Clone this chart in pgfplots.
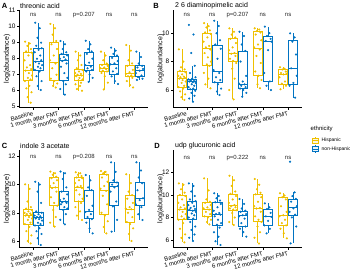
\documentclass[border=0pt]{standalone}
\usepackage{fontspec}
\setmainfont{Liberation Sans}
\usepackage{pgfplots}
\pgfplotsset{compat=1.18}
\usepgfplotslibrary{statistics}
\definecolor{jcoY}{HTML}{EFC000}
\definecolor{jcoB}{HTML}{0073C2}
\newcommand{\bx}[7]{\addplot[color=#1, line width=0.5pt, solid, mark=none, boxplot/draw direction=y, boxplot prepared={draw position=#2, lower whisker=#3, lower quartile=#4, median=#5, upper quartile=#6, upper whisker=#7, box extend=0.36, whisker extend=0}] coordinates {};}
\tikzset{nsl/.style={font=\fontsize{6}{7}\selectfont, text=black!85}}
\pgfplotsset{
  panel/.style={
    scale only axis, width=129pt, height=97.5pt,
    xmin=0.45, xmax=5.55,
    axis x line*=bottom, axis y line*=left,
    axis line style={black, line width=0.5pt},
    tick align=outside, major tick length=2pt,
    tick style={black, line width=0.4pt},
    xtick={1,2,3,4,5},
    xticklabels={Baseline,1 month after FMT,3 months after FMT,6 months after FMT,12 months after FMT},
    xticklabel style={rotate=15, anchor=north east, font=\fontsize{6}{7}\selectfont, inner sep=1pt},
    yticklabel style={font=\fontsize{6.5}{7}\selectfont, inner sep=1.5pt},
    /pgf/number format/assume math mode=true,
    clip=false,
  },
  ptY/.style={only marks, mark=*, mark size=0.85pt, color=jcoY, mark options={draw=none, fill=jcoY}},
  ptB/.style={only marks, mark=*, mark size=0.85pt, color=jcoB, mark options={draw=none, fill=jcoB}},
}
\begin{document}
\begin{tikzpicture}
\useasboundingbox (0pt,0pt) rectangle (350pt,271pt);

% ---------------- Panel A ----------------
\begin{axis}[panel, at={(19.3pt,163.5pt)}, anchor=south west, ymin=4.95, ymax=11.04, ytick={5,6,7,8,9,10,11}]
\bx{jcoY}{0.8}{5.25}{6.67}{7.29}{8.38}{9.06}
\bx{jcoB}{1.2}{6.04}{7.28}{7.83}{8.65}{10.25}
\bx{jcoY}{1.8}{6.2}{6.67}{7.8}{9.0}{10.17}
\bx{jcoB}{2.2}{5.75}{6.65}{7.9}{8.3}{9.1}
\bx{jcoY}{2.8}{6.0}{6.67}{6.98}{7.33}{8.44}
\bx{jcoB}{3.2}{6.55}{7.3}{7.6}{8.4}{9.12}
\bx{jcoY}{3.8}{6.08}{7.19}{7.4}{7.65}{8.44}
\bx{jcoB}{4.2}{6.42}{7.04}{7.67}{8.17}{8.69}
\bx{jcoY}{4.8}{6.2}{6.88}{7.1}{7.6}{8.85}
\bx{jcoB}{5.2}{6.67}{6.88}{7.3}{7.58}{8.44}
\addplot[ptY] coordinates {(0.68,9.06) (0.86,8.95) (0.77,8.8) (0.91,8.6) (0.72,8.45) (0.94,8.38) (0.81,8.2) (0.66,7.9) (0.88,7.6) (0.75,7.45) (0.92,7.35) (0.70,7.25) (0.83,7.1) (0.95,6.95) (0.79,6.8) (0.89,6.7) (0.67,6.6) (0.85,6.3) (0.73,6.15) (0.93,5.9) (0.78,5.6) (0.90,5.25)
(1.68,10.17) (1.86,9.9) (1.77,9.5) (1.91,9.1) (1.72,8.9) (1.94,8.6) (1.81,8.2) (1.66,7.9) (1.88,7.7) (1.75,7.4) (1.92,7.0) (1.70,6.75) (1.83,6.6) (1.95,6.45) (1.79,6.3) (1.89,6.2)
(2.68,8.44) (2.86,8.2) (2.77,7.9) (2.91,7.6) (2.72,7.4) (2.94,7.3) (2.81,7.2) (2.66,7.1) (2.88,7.05) (2.75,7.0) (2.92,6.95) (2.70,6.9) (2.83,6.8) (2.95,6.7) (2.79,6.65) (2.89,6.5) (2.67,6.4) (2.85,6.3) (2.73,6.1) (2.93,6.0)
(3.68,8.44) (3.86,8.2) (3.77,7.9) (3.91,7.7) (3.72,7.6) (3.94,7.55) (3.81,7.45) (3.66,7.4) (3.88,7.35) (3.75,7.25) (3.92,7.2) (3.70,7.1) (3.83,6.9) (3.95,6.5) (3.79,6.08)
(4.68,8.85) (4.86,8.5) (4.77,7.9) (4.91,7.7) (4.72,7.55) (4.94,7.3) (4.81,7.15) (4.66,7.05) (4.88,6.95) (4.75,6.9) (4.92,6.8) (4.70,6.6) (4.83,6.35) (4.95,6.2)};
\addplot[ptB] coordinates {(1.08,10.25) (1.26,9.9) (1.17,9.3) (1.31,9.0) (1.12,8.8) (1.34,8.65) (1.21,8.55) (1.06,8.4) (1.28,8.2) (1.15,8.0) (1.32,7.9) (1.10,7.8) (1.23,7.7) (1.35,7.6) (1.19,7.5) (1.29,7.4) (1.07,7.3) (1.25,7.2) (1.13,6.9) (1.33,6.6) (1.18,6.3) (1.30,6.04)
(2.08,9.1) (2.26,8.9) (2.17,8.6) (2.31,8.4) (2.12,8.3) (2.34,8.2) (2.21,8.1) (2.06,8.0) (2.28,7.95) (2.15,7.85) (2.32,7.7) (2.10,7.5) (2.23,7.1) (2.35,6.8) (2.19,6.6) (2.29,6.4) (2.07,6.1) (2.25,5.75)
(3.08,9.12) (3.26,8.9) (3.17,8.6) (3.31,8.45) (3.12,8.3) (3.34,8.0) (3.21,7.75) (3.06,7.6) (3.28,7.5) (3.15,7.4) (3.32,7.3) (3.10,7.2) (3.23,7.0) (3.35,6.8) (3.19,6.55)
(4.08,8.69) (4.26,8.5) (4.17,8.3) (4.31,8.2) (4.12,8.05) (4.34,7.85) (4.21,7.7) (4.06,7.65) (4.28,7.4) (4.15,7.2) (4.32,7.05) (4.10,6.9) (4.23,6.6) (4.35,6.42)
(5.08,8.44) (5.26,8.1) (5.17,7.7) (5.31,7.55) (5.12,7.45) (5.34,7.35) (5.21,7.25) (5.06,7.1) (5.28,6.95) (5.15,6.85) (5.32,6.75) (5.10,6.67)};
\node[nsl] at (axis cs:1,10.73) {ns};
\node[nsl] at (axis cs:2,10.73) {ns};
\node[nsl] at (axis cs:3,10.73) {p=0.207};
\node[nsl] at (axis cs:4,10.73) {ns};
\node[nsl] at (axis cs:5,10.73) {ns};
\end{axis}

% ---------------- Panel B ----------------
\begin{axis}[panel, at={(173pt,163.5pt)}, anchor=south west, ymin=4.77, ymax=11.63, ytick={6,8,10}]
\bx{jcoY}{0.8}{5.3}{6.19}{6.82}{7.29}{8.86}
\bx{jcoB}{1.2}{5.18}{6.05}{6.59}{6.77}{7.7}
\bx{jcoY}{1.8}{6.12}{7.76}{8.93}{9.99}{10.7}
\bx{jcoB}{2.2}{5.65}{6.52}{7.29}{9.17}{10.88}
\bx{jcoY}{2.8}{5.34}{8.0}{8.58}{9.64}{10.34}
\bx{jcoB}{3.2}{5.53}{6.12}{6.4}{8.75}{10.1}
\bx{jcoY}{3.8}{6.12}{7.06}{8.93}{10.1}{10.34}
\bx{jcoB}{4.2}{6.0}{6.59}{9.4}{9.76}{10.46}
\bx{jcoY}{4.8}{6.05}{6.42}{7.13}{7.46}{7.6}
\bx{jcoB}{5.2}{5.46}{6.42}{7.53}{9.52}{9.99}
\addplot[ptY] coordinates {(0.68,8.86) (0.86,8.0) (0.77,7.6) (0.91,7.45) (0.72,7.35) (0.94,7.25) (0.81,7.1) (0.66,7.0) (0.88,6.95) (0.75,6.9) (0.92,6.85) (0.70,6.8) (0.83,6.7) (0.95,6.6) (0.79,6.5) (0.89,6.3) (0.67,6.2) (0.85,6.1) (0.73,5.9) (0.93,5.7) (0.78,5.5) (0.90,5.3)
(1.68,10.7) (1.86,10.5) (1.77,10.4) (1.91,10.2) (1.72,10.05) (1.94,9.95) (1.81,9.7) (1.66,9.4) (1.88,9.1) (1.75,9.0) (1.92,8.85) (1.70,8.6) (1.83,8.3) (1.95,8.0) (1.79,7.8) (1.89,7.7) (1.67,7.2) (1.85,6.8) (1.73,6.4) (1.93,6.12)
(2.68,10.34) (2.86,10.1) (2.77,9.9) (2.91,9.7) (2.72,9.6) (2.94,9.3) (2.81,9.0) (2.66,8.8) (2.88,8.6) (2.75,8.55) (2.92,8.4) (2.70,8.2) (2.83,8.05) (2.95,7.9) (2.79,7.5) (2.89,6.8) (2.67,6.0) (2.85,5.34)
(3.68,10.34) (3.86,10.25) (3.77,10.15) (3.91,10.05) (3.72,9.9) (3.94,9.5) (3.81,9.2) (3.66,9.0) (3.88,8.85) (3.75,8.4) (3.92,7.9) (3.70,7.3) (3.83,7.0) (3.95,6.7) (3.79,6.4) (3.89,6.12)
(4.68,7.6) (4.86,7.5) (4.77,7.45) (4.91,7.3) (4.72,7.2) (4.94,7.15) (4.81,7.1) (4.66,6.9) (4.88,6.6) (4.75,6.45) (4.92,6.3) (4.70,6.05)};
\addplot[ptB] coordinates {(1.08,10.58) (1.26,9.9) (1.17,8.6) (1.31,7.7) (1.12,7.2) (1.34,6.9) (1.21,6.8) (1.06,6.75) (1.28,6.7) (1.15,6.65) (1.32,6.6) (1.10,6.6) (1.23,6.55) (1.35,6.5) (1.19,6.4) (1.29,6.3) (1.07,6.2) (1.25,6.1) (1.13,6.05) (1.33,5.95) (1.18,5.8) (1.30,5.6) (1.09,5.4) (1.24,5.18)
(2.08,10.88) (2.26,10.5) (2.17,10.0) (2.31,9.5) (2.12,9.2) (2.34,8.9) (2.21,8.2) (2.06,7.4) (2.28,7.2) (2.15,6.9) (2.32,6.7) (2.10,6.55) (2.23,6.4) (2.35,6.1) (2.19,5.9) (2.29,5.65)
(3.08,10.1) (3.26,9.8) (3.17,9.2) (3.31,8.75) (3.12,8.0) (3.34,7.0) (3.21,6.6) (3.06,6.45) (3.28,6.4) (3.15,6.3) (3.32,6.2) (3.10,6.1) (3.23,6.0) (3.35,5.8) (3.19,5.53)
(4.08,10.46) (4.26,10.0) (4.17,9.8) (4.31,9.6) (4.12,9.45) (4.34,9.4) (4.21,8.8) (4.06,7.2) (4.28,6.6) (4.15,6.3) (4.32,6.0)
(5.08,9.99) (5.26,9.7) (5.17,9.4) (5.31,8.5) (5.12,7.53) (5.34,7.0) (5.21,6.5) (5.06,6.3) (5.28,5.46)};
\node[nsl] at (axis cs:1,11.29) {ns};
\node[nsl] at (axis cs:2,11.29) {ns};
\node[nsl] at (axis cs:3,11.29) {p=0.207};
\node[nsl] at (axis cs:4,11.29) {ns};
\node[nsl] at (axis cs:5,11.29) {ns};
\end{axis}

% ---------------- Panel C ----------------
\begin{axis}[panel, at={(19.3pt,23.5pt)}, anchor=south west, ymin=5.54, ymax=12.45, ytick={6,8,10,12}]
\bx{jcoY}{0.8}{5.83}{7.18}{7.84}{8.27}{10.02}
\bx{jcoB}{1.2}{5.72}{7.13}{7.65}{8.03}{10.2}
\bx{jcoY}{1.8}{7.02}{8.5}{9.78}{10.49}{10.92}
\bx{jcoB}{2.2}{7.18}{8.27}{8.79}{9.55}{10.92}
\bx{jcoY}{2.8}{7.49}{8.79}{9.8}{10.49}{10.87}
\bx{jcoB}{3.2}{6.54}{7.6}{8.13}{9.62}{10.68}
\bx{jcoY}{3.8}{6.54}{7.89}{9.62}{10.73}{10.96}
\bx{jcoB}{4.2}{6.66}{8.5}{9.85}{10.2}{11.58}
\bx{jcoY}{4.8}{6.0}{7.32}{8.27}{9.22}{10.73}
\bx{jcoB}{5.2}{7.49}{8.5}{9.03}{10.16}{11.58}
\addplot[ptY] coordinates {(0.68,10.02) (0.86,9.7) (0.77,8.8) (0.91,8.4) (0.72,8.3) (0.94,8.2) (0.81,8.1) (0.66,8.0) (0.88,7.95) (0.75,7.9) (0.92,7.85) (0.70,7.8) (0.83,7.7) (0.95,7.6) (0.79,7.5) (0.89,7.3) (0.67,7.2) (0.85,7.0) (0.73,6.7) (0.93,6.4) (0.78,6.0) (0.90,5.83)
(1.68,10.92) (1.86,10.8) (1.77,10.7) (1.91,10.55) (1.72,10.45) (1.94,10.3) (1.81,10.1) (1.66,9.9) (1.88,9.8) (1.75,9.75) (1.92,9.5) (1.70,9.1) (1.83,8.7) (1.95,8.5) (1.79,8.2) (1.89,7.7) (1.67,7.3) (1.85,7.02)
(2.68,10.87) (2.86,10.8) (2.77,10.7) (2.91,10.6) (2.72,10.5) (2.94,10.45) (2.81,10.3) (2.66,10.1) (2.88,9.9) (2.75,9.85) (2.92,9.75) (2.70,9.6) (2.83,9.3) (2.95,9.0) (2.79,8.8) (2.89,8.7) (2.67,8.4) (2.85,8.1) (2.73,7.8) (2.93,7.49)
(3.68,10.96) (3.86,10.9) (3.77,10.8) (3.91,10.7) (3.72,10.5) (3.94,10.2) (3.81,9.9) (3.66,9.7) (3.88,9.55) (3.75,9.2) (3.92,8.6) (3.70,8.0) (3.83,7.8) (3.95,7.4) (3.79,7.0) (3.89,6.54)
(4.68,10.73) (4.86,10.1) (4.77,9.5) (4.91,9.25) (4.72,9.0) (4.94,8.7) (4.81,8.4) (4.66,8.3) (4.88,8.25) (4.75,8.0) (4.92,7.7) (4.70,7.35) (4.83,7.2) (4.95,6.9) (4.79,6.5) (4.89,6.0)};
\addplot[ptB] coordinates {(1.08,10.2) (1.26,10.0) (1.17,9.5) (1.31,8.7) (1.12,8.1) (1.34,8.0) (1.21,7.9) (1.06,7.8) (1.28,7.75) (1.15,7.7) (1.32,7.65) (1.10,7.6) (1.23,7.55) (1.35,7.45) (1.19,7.3) (1.29,7.2) (1.07,7.1) (1.25,6.9) (1.13,6.7) (1.33,6.5) (1.18,6.2) (1.30,5.72)
(2.08,10.92) (2.26,10.8) (2.17,10.4) (2.31,9.8) (2.12,9.5) (2.34,9.3) (2.21,9.0) (2.06,8.9) (2.28,8.8) (2.15,8.75) (2.32,8.7) (2.10,8.6) (2.23,8.4) (2.35,8.3) (2.19,8.2) (2.29,7.9) (2.07,7.5) (2.25,7.18)
(3.08,10.68) (3.26,10.3) (3.17,9.8) (3.31,9.6) (3.12,9.2) (3.34,8.5) (3.21,8.2) (3.06,8.05) (3.28,7.9) (3.15,7.7) (3.32,7.55) (3.10,7.3) (3.23,6.9) (3.35,6.54)
(4.08,11.58) (4.26,10.9) (4.17,10.3) (4.31,10.15) (4.12,10.0) (4.34,9.9) (4.21,9.8) (4.06,9.5) (4.28,8.8) (4.15,8.45) (4.32,7.5) (4.10,6.66)
(5.08,11.58) (5.26,11.0) (5.17,10.5) (5.31,10.1) (5.12,9.6) (5.34,9.03) (5.21,8.9) (5.06,8.6) (5.28,8.4) (5.15,7.9) (5.32,7.49)};
\node[nsl] at (axis cs:1,11.93) {ns};
\node[nsl] at (axis cs:2,11.93) {ns};
\node[nsl] at (axis cs:3,11.93) {p=0.208};
\node[nsl] at (axis cs:4,11.93) {ns};
\node[nsl] at (axis cs:5,11.93) {ns};
\end{axis}

% ---------------- Panel D ----------------
\begin{axis}[panel, at={(173pt,23.5pt)}, anchor=south west, ymin=5.34, ymax=13.98, ytick={6,8,10,12}]
\bx{jcoY}{0.8}{5.79}{7.86}{8.75}{9.93}{11.02}
\bx{jcoB}{1.2}{5.91}{7.86}{8.66}{9.4}{11.02}
\bx{jcoY}{1.8}{7.39}{8.07}{8.75}{9.34}{11.47}
\bx{jcoB}{2.2}{5.56}{7.33}{8.28}{9.34}{10.14}
\bx{jcoY}{2.8}{7.33}{8.66}{9.04}{10.05}{11.7}
\bx{jcoB}{3.2}{6.3}{7.18}{8.16}{8.57}{9.63}
\bx{jcoY}{3.8}{5.7}{7.63}{8.81}{10.05}{11.41}
\bx{jcoB}{4.2}{6.59}{7.33}{8.07}{8.75}{9.25}
\bx{jcoY}{4.8}{6.15}{7.33}{8.16}{9.75}{10.14}
\bx{jcoB}{5.2}{5.7}{8.22}{8.87}{9.63}{10.23}
\addplot[ptY] coordinates {(0.68,11.02) (0.86,10.9) (0.77,10.5) (0.91,10.2) (0.72,10.0) (0.94,9.9) (0.81,9.6) (0.66,9.3) (0.88,9.1) (0.75,8.9) (0.92,8.8) (0.70,8.7) (0.83,8.5) (0.95,8.3) (0.79,8.1) (0.89,7.9) (0.67,7.8) (0.85,7.5) (0.73,7.0) (0.93,6.5) (0.78,6.2) (0.90,5.79)
(1.68,11.47) (1.86,10.4) (1.77,9.6) (1.91,9.4) (1.72,9.3) (1.94,9.1) (1.81,8.9) (1.66,8.8) (1.88,8.7) (1.75,8.5) (1.92,8.3) (1.70,8.1) (1.83,8.0) (1.95,7.8) (1.79,7.6) (1.89,7.39)
(2.68,11.7) (2.86,11.3) (2.77,10.8) (2.91,10.3) (2.72,10.1) (2.94,9.9) (2.81,9.6) (2.66,9.3) (2.88,9.1) (2.75,9.0) (2.92,8.9) (2.70,8.8) (2.83,8.7) (2.95,8.65) (2.79,8.4) (2.89,8.0) (2.67,7.6) (2.85,7.33)
(3.68,11.41) (3.86,10.9) (3.77,10.5) (3.91,10.2) (3.72,10.05) (3.94,9.8) (3.81,9.4) (3.66,9.0) (3.88,8.85) (3.75,8.8) (3.92,8.5) (3.70,8.1) (3.83,7.8) (3.95,7.6) (3.79,7.2) (3.89,6.7) (3.67,6.2) (3.85,5.7)
(4.68,10.14) (4.86,9.95) (4.77,9.8) (4.91,9.6) (4.72,9.0) (4.94,8.5) (4.81,8.2) (4.66,8.1) (4.88,7.8) (4.75,7.5) (4.92,7.3) (4.70,7.0) (4.83,6.6) (4.95,6.15)};
\addplot[ptB] coordinates {(1.08,11.02) (1.26,10.8) (1.17,10.3) (1.31,9.9) (1.12,9.6) (1.34,9.45) (1.21,9.3) (1.06,9.1) (1.28,9.0) (1.15,8.85) (1.32,8.75) (1.10,8.7) (1.23,8.6) (1.35,8.5) (1.19,8.35) (1.29,8.2) (1.07,8.0) (1.25,7.9) (1.13,7.6) (1.33,7.2) (1.18,6.9) (1.30,6.5) (1.09,6.2) (1.24,5.91)
(2.08,10.14) (2.26,9.9) (2.17,9.7) (2.31,9.5) (2.12,9.35) (2.34,9.2) (2.21,8.9) (2.06,8.6) (2.28,8.4) (2.15,8.3) (2.32,8.25) (2.10,8.1) (2.23,7.8) (2.35,7.5) (2.19,7.35) (2.29,7.1) (2.07,6.7) (2.25,6.3) (2.13,5.9) (2.33,5.56)
(3.08,9.63) (3.26,9.2) (3.17,8.8) (3.31,8.6) (3.12,8.5) (3.34,8.3) (3.21,8.2) (3.06,8.1) (3.28,7.9) (3.15,7.5) (3.32,7.2) (3.10,7.0) (3.23,6.7) (3.35,6.3)
(4.08,9.25) (4.26,8.9) (4.17,8.75) (4.31,8.4) (4.12,8.1) (4.34,8.05) (4.21,7.7) (4.06,7.3) (4.28,7.0) (4.15,6.59)
(5.08,12.94) (5.26,10.23) (5.17,9.9) (5.31,9.65) (5.12,9.4) (5.34,9.0) (5.21,8.8) (5.06,8.5) (5.28,8.25) (5.15,8.0) (5.32,7.2) (5.10,5.7)};
\node[nsl] at (axis cs:1,13.27) {ns};
\node[nsl] at (axis cs:2,13.27) {ns};
\node[nsl] at (axis cs:3,13.27) {p=0.222};
\node[nsl] at (axis cs:4,13.27) {ns};
\node[nsl] at (axis cs:5,13.27) {ns};
\end{axis}

% ---------------- Titles, letters, y labels ----------------
\node[font=\bfseries\fontsize{7.5}{8}\selectfont, inner sep=0pt] at (4.5pt,265pt) {A};
\node[font=\bfseries\fontsize{7.5}{8}\selectfont, inner sep=0pt] at (156pt,265pt) {B};
\node[font=\bfseries\fontsize{7.5}{8}\selectfont, inner sep=0pt] at (4.5pt,125.5pt) {C};
\node[font=\bfseries\fontsize{7.5}{8}\selectfont, inner sep=0pt] at (157pt,125.5pt) {D};
\node[font=\fontsize{7}{8}\selectfont, inner sep=0pt, anchor=west] at (20pt,265pt) {threonic acid};
\node[font=\fontsize{7}{8}\selectfont, inner sep=0pt, anchor=west] at (175pt,265pt) {2 6 diaminopimelic acid};
\node[font=\fontsize{7}{8}\selectfont, inner sep=0pt, anchor=west] at (20pt,125.5pt) {indole 3 acetate};
\node[font=\fontsize{7}{8}\selectfont, inner sep=0pt, anchor=west] at (175pt,125.5pt) {udp glucuronic acid};
\node[font=\fontsize{7}{8}\selectfont, inner sep=0pt, rotate=90] at (7pt,212.25pt) {log(abundance)};
\node[font=\fontsize{7}{8}\selectfont, inner sep=0pt, rotate=90] at (160.5pt,212.25pt) {log(abundance)};
\node[font=\fontsize{7}{8}\selectfont, inner sep=0pt, rotate=90] at (7pt,72.25pt) {log(abundance)};
\node[font=\fontsize{7}{8}\selectfont, inner sep=0pt, rotate=90] at (160.5pt,72.25pt) {log(abundance)};

% ---------------- Legend ----------------
\node[font=\fontsize{6}{7}\selectfont, inner sep=0pt, anchor=west] at (310.5pt,141.7pt) {ethnicity};
\draw[jcoY, line width=0.5pt] (315pt,126.6pt) -- (315pt,134.4pt);
\draw[jcoY, line width=0.5pt, fill=jcoY!12] (312pt,128.2pt) rectangle (318pt,132.8pt);
\draw[jcoY, line width=0.5pt] (312pt,130.5pt) -- (318pt,130.5pt);
\node[font=\fontsize{5}{6}\selectfont, inner sep=0pt, anchor=west] at (321.5pt,130.5pt) {Hispanic};
\draw[jcoB, line width=0.5pt] (315pt,118.3pt) -- (315pt,126.1pt);
\draw[jcoB, line width=0.5pt, fill=jcoB!8] (312pt,119.9pt) rectangle (318pt,124.5pt);
\draw[jcoB, line width=0.5pt] (312pt,122.2pt) -- (318pt,122.2pt);
\node[font=\fontsize{5}{6}\selectfont, inner sep=0pt, anchor=west] at (321.5pt,122.2pt) {non-Hispanic};
\end{tikzpicture}
\end{document}
